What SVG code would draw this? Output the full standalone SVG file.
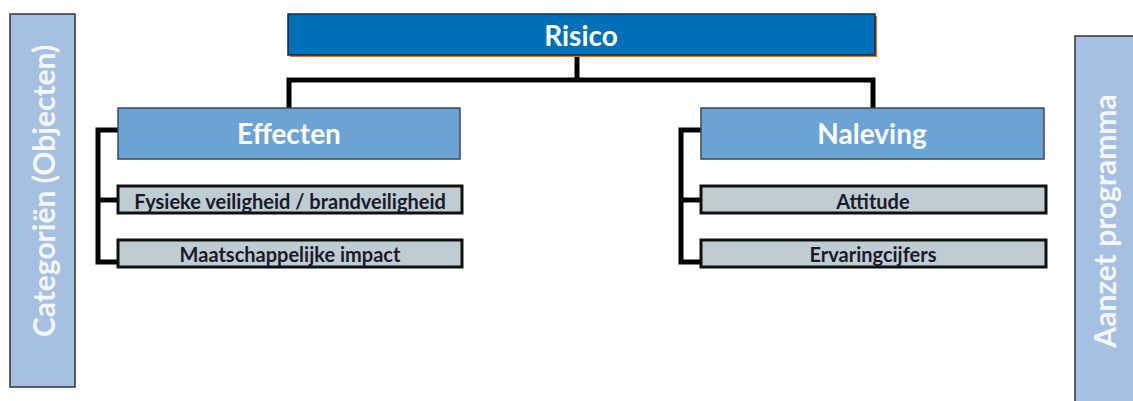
<svg xmlns="http://www.w3.org/2000/svg" width="1133" height="401" viewBox="0 0 1133 401">
<style>
.side{fill:#a5c0e0;stroke:#333;stroke-width:1.5}
.side-t{fill:#f4f7fb;font-family:Lato,"Open Sans",sans-serif;font-size:30px;font-weight:bold;text-anchor:middle}
.lvl1{fill:#6ca3d5;stroke:#3a4a5a;stroke-width:1.5}
.lvl1-t{fill:#ffffff;font-family:Lato,"Open Sans",sans-serif;font-size:28px;font-weight:bold;text-anchor:middle}
.lvl2{fill:#bfcdd3;stroke:#111;stroke-width:3}
.lvl2-t{fill:#1a1a2a;font-family:Lato,"Open Sans",sans-serif;font-size:20px;font-weight:bold;text-anchor:middle}
.conn{fill:none;stroke:#000;stroke-width:5;stroke-linejoin:miter}
</style>
<g id="categorien">
<rect class="side" x="10" y="14" width="65" height="373"/>
<text class="side-t" transform="translate(55 191) rotate(-90)">Categoriën (Objecten)</text>
</g>
<g id="aanzet">
<rect class="side" x="1075" y="36" width="62" height="370"/>
<text class="side-t" transform="translate(1116 221) rotate(-90)" font-size="28">Aanzet programma</text>
</g>
<g id="connectors">
<path class="conn" d="M577 55 V80 M289 108 V80 H873 V108"/>
<path class="conn" d="M118 130 H98 V262 H118 M98 200 H118"/>
<path class="conn" d="M701 130 H681 V262 H701 M681 200 H701"/>
</g>
<g id="risico">
<rect x="290" y="16" width="587" height="41" fill="#e8701e"/>
<rect x="288" y="14" width="587" height="41" fill="#0070b8" stroke="#1a2a3a" stroke-width="1.5"/>
<text class="lvl1-t" x="581" y="46" font-size="27">Risico</text>
</g>
<g id="effecten">
<rect class="lvl1" x="118" y="108" width="342" height="51"/>
<text class="lvl1-t" x="289" y="144">Effecten</text>
</g>
<g id="fysieke">
<rect class="lvl2" x="118" y="186" width="344" height="27"/>
<text class="lvl2-t" x="290" y="209">Fysieke veiligheid / brandveiligheid</text>
</g>
<g id="maatschappelijke">
<rect class="lvl2" x="118" y="240" width="344" height="27"/>
<text class="lvl2-t" x="290" y="262">Maatschappelijke impact</text>
</g>
<g id="naleving">
<rect class="lvl1" x="701" y="108" width="343" height="51"/>
<text class="lvl1-t" x="872" y="144">Naleving</text>
</g>
<g id="attitude">
<rect class="lvl2" x="701" y="186" width="345" height="27"/>
<text class="lvl2-t" x="873" y="209">Attitude</text>
</g>
<g id="ervaringcijfers">
<rect class="lvl2" x="701" y="240" width="345" height="27"/>
<text class="lvl2-t" x="873" y="262">Ervaringcijfers</text>
</g>
</svg>
